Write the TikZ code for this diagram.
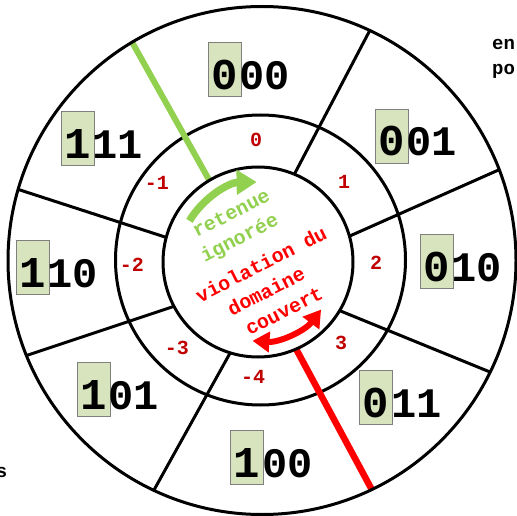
\documentclass[tikz,border=0pt]{standalone}
\usepackage{fontspec}
\setmonofont{Liberation Mono}
\usetikzlibrary{arrows.meta}
\definecolor{rgreen}{HTML}{92D050}
\definecolor{dred}{HTML}{C00000}
\definecolor{boxfill}{HTML}{D7E4BD}
\definecolor{boxline}{HTML}{7F7F7F}
\begin{document}
\begin{tikzpicture}[x=1pt,y=1pt,
  ring/.style={line width=3pt},
  divider/.style={line width=3pt, shorten <=-8pt, shorten >=-8pt},
  firstdig/.style={draw=boxline, line width=1pt, fill=boxfill, minimum width=33pt,
    minimum height=54pt, inner sep=0pt, text height=40pt, text depth=1pt,
    font=\fontsize{44}{44}\ttfamily\bfseries},
  restdig/.style={anchor=base west, inner sep=0pt, font=\fontsize{42}{42}\ttfamily\bfseries},
  val/.style={text=dred, inner sep=0pt, font=\fontsize{20}{20}\ttfamily\bfseries},
  centertxt/.style={inner sep=0pt, rotate=27, font=\fontsize{20}{20}\ttfamily\bfseries},
  edgetxt/.style={inner sep=0pt, font=\fontsize{19}{19}\ttfamily\bfseries}]
\useasboundingbox (0,0) rectangle (517,-516);
% centres
\coordinate (Co) at (262,-260.5);
\coordinate (Cm) at (260.5,-260);
\coordinate (Ci) at (258,-262);
% divider end points
\coordinate (d1o) at (369,-32);  \coordinate (d1i) at (295,-173);
\coordinate (d2o) at (494,-172); \coordinate (d2i) at (352,-235);
\coordinate (d3o) at (490,-372); \coordinate (d3i) at (343,-312);
\coordinate (d4o) at (154,-490); \coordinate (d4i) at (229,-355);
\coordinate (d5o) at (28,-355);  \coordinate (d5i) at (172,-307);
\coordinate (d6o) at (20,-190);  \coordinate (d6i) at (165,-237);
\coordinate (go) at (132,-42);   \coordinate (gi) at (208,-178);
\coordinate (ro) at (372,-490);  \coordinate (ri) at (295,-347);
\begin{scope}
  \clip (Co) circle[radius=254];
  \foreach \k in {1,...,6} \draw[divider] (d\k o) -- (d\k i);
\end{scope}
\draw[ring] (Cm) circle[radius=145];
\begin{scope}
  \clip (Co) circle[radius=254];
  \draw[rgreen, line width=6pt, shorten <=-8pt, shorten >=-8pt] (go) -- (gi);
  \draw[red, line width=6.5pt, shorten <=-8pt, shorten >=-8pt] (ri) -- (ro);
\end{scope}
\draw[ring] (Co) circle[radius=254];
\draw[ring, fill=white] (Ci) circle[radius=95];
% labels
\node[firstdig] (b000) at (224.5,-70) {0};
\node[restdig] (r000) at ([xshift=-2pt]b000.base east) {00};
\node[firstdig] (b001) at (391.5,-136.5) {0};
\node[restdig] (r001) at ([xshift=-2pt]b001.base east) {01};
\node[firstdig] (b010) at (436.5,-261.5) {0};
\node[restdig] (r010) at ([xshift=-2pt]b010.base east) {10};
\node[firstdig] (b011) at (376,-397.5) {0};
\node[restdig] (r011) at ([xshift=-2pt]b011.base east) {11};
\node[firstdig] (b100) at (247,-457.5) {1};
\node[restdig] (r100) at ([xshift=-2pt]b100.base east) {00};
\node[firstdig] (b101) at (93.5,-389.5) {1};
\node[restdig] (r101) at ([xshift=-2pt]b101.base east) {01};
\node[firstdig] (b110) at (32.5,-267.5) {1};
\node[restdig] (r110) at ([xshift=-2pt]b110.base east) {10};
\node[firstdig] (b111) at (77.5,-139) {1};
\node[restdig] (r111) at ([xshift=-2pt]b111.base east) {11};
% values
\node[val] (v0) at (256,-140) {0};
\node[val] (v1) at (344,-182) {1};
\node[val] (v2) at (376,-263) {2};
\node[val] (v3) at (341,-343) {3};
\node[val] (vm4) at (253,-377) {-4};
\node[val] (vm3) at (177,-348) {-3};
\node[val] (vm2) at (132,-265) {-2};
\node[val] (vm1) at (157,-183) {-1};
% centre text
\node[centertxt, text=rgreen] (t1) at (231,-213) {retenue};
\node[centertxt, text=rgreen] (t2) at (240,-239) {ignorée};
\node[centertxt, text=red] (t3) at (261,-264) {violation du};
\node[centertxt, text=red] (t4) at (266,-291) {domaine};
\node[centertxt, text=red] (t5) at (284,-311) {couvert};
% arrows
\draw[rgreen, line width=7.5pt, -{Triangle[length=20pt,width=24pt]}]
  ([shift={(149:80)}]Ci) arc[start angle=149, end angle=91, radius=80];
\draw[red, line width=6pt, {Triangle[length=17pt,width=20pt]}-{Triangle[length=17pt,width=20pt]}]
  ([shift={(266:79)}]Ci) arc[start angle=266, end angle=323, radius=79];
% clipped texts at the edges
\node[edgetxt, anchor=base west] (e1) at (492,-50) {en};
\node[edgetxt, anchor=base west] (e2) at (492,-75) {po};
\node[edgetxt, anchor=base east] (e3) at (7.5,-477) {s};
\end{tikzpicture}
\end{document}
